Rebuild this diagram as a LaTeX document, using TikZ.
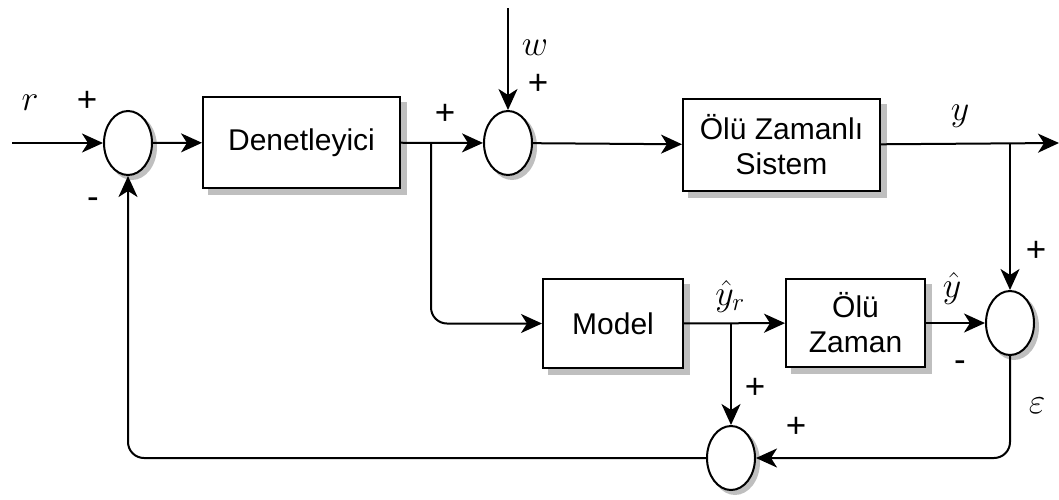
\documentclass[tikz,border=0pt]{standalone}
\usepackage{fix-cm}
\usepackage{fontspec}
\setsansfont{Liberation Sans}
\usetikzlibrary{arrows.meta, shapes.geometric, backgrounds}

\begin{document}
\begin{tikzpicture}[x=1pt, y=-1pt,
    blk/.style={rectangle, draw=black, fill=white, line width=2pt,
                minimum width=197pt, minimum height=91pt, align=center,
                font=\sffamily\fontsize{30}{35}\selectfont},
    sum/.style={ellipse, draw=black, fill=white, line width=2pt,
                minimum width=48pt, minimum height=64pt, inner sep=0pt},
    shd/.style={fill=black!25},
    arr/.style={-{Stealth[length=21pt, width=19pt, inset=6pt]},
                line width=2pt},
    sgn/.style={font=\sffamily\fontsize{35}{35}\selectfont,
                inner sep=0pt},
    var/.style={font=\fontsize{36}{36}\selectfont, inner sep=0pt},
  ]
    \useasboundingbox (0,0) rectangle (1059,499);

    % Ust hat
    \node[sum] (sumA) at (128,143) {};
    \node[blk] (ctrl) at (301.5,142.5) {Denetleyici};
    \node[sum] (sumB) at (508,143) {};
    \node[blk, minimum height=92pt] (plant) at (781.5,145) {Ölü Zamanlı\\Sistem};

    % Alt hat
    \node[blk, minimum width=140pt, minimum height=89pt] (model)
      at (613,323.5) {Model};
    \node[blk, minimum width=139pt, minimum height=88pt] (delay)
      at (855.5,323) {Ölü\\Zaman};
    \node[sum] (sumC) at (1010,323) {};
    \node[sum] (sumD) at (731,458) {};

    % Golgeler
    \begin{scope}[on background layer]
      \foreach \bx in {ctrl,plant,model,delay}
        \fill[shd] ([shift={(6pt,-6pt)}]\bx.south west)
          rectangle ([shift={(6pt,-6pt)}]\bx.north east);
      \foreach \sx in {sumA,sumB,sumC,sumD}
        \fill[shd] ([shift={(4pt,-4pt)}]\sx.center)
          ellipse [x radius=25pt, y radius=33pt];
    \end{scope}

    % Giris / cikis ve dallanma noktalari
    \coordinate (rin) at (12,143);
    \coordinate (win) at (508,8);
    \coordinate (yout) at (1059,143);
    \coordinate (b1) at (431,143);
    \coordinate (b2) at (1010,143);
    \coordinate (b3) at (731,323);

    % Oklar
    \draw[arr] (rin) -- (sumA);
    \draw[arr] (sumA) -- (ctrl);
    \draw[arr] (ctrl) -- (sumB);
    \draw[arr] (win) -- (sumB);
    \draw[arr] (sumB) -- (plant);
    \draw[arr] (plant) -- (yout);
    \draw[arr] (b2) -- (sumC);
    \draw[arr, rounded corners=16pt] (b1) |- (model);
    \draw[arr] (model) -- (delay);
    \draw[arr] (b3) -- (sumD);
    \draw[arr] (delay) -- (sumC);
    \draw[arr, rounded corners=16pt] (sumC) |- (sumD);
    \draw[arr, rounded corners=16pt] (sumD) -| (sumA);

    % Etiketler
    \node[var] (lr) at (30,103) {$r$};
    \node[sgn] (pA1) at (87,101) {+};
    \node[sgn] (mA) at (93,203) {-};
    \node[sgn] (pB1) at (445,114) {+};
    \node[var] (lw) at (535,48) {$w$};
    \node[sgn] (pB2) at (538,84) {+};
    \node[var] (ly) at (960,116) {$y$};
    \node[sgn] (pC) at (1036,251) {+};
    \node[var] (lyh) at (952,288) {$\hat{y}$};
    \node[sgn] (mC) at (960,366) {-};
    \node[var] (le) at (1037,406) {$\varepsilon$};
    \node[var] (lyr) at (730,296) {$\hat{y}_r$};
    \node[sgn] (pD1) at (755,388) {+};
    \node[sgn] (pD2) at (796,427) {+};
\end{tikzpicture}
\end{document}
